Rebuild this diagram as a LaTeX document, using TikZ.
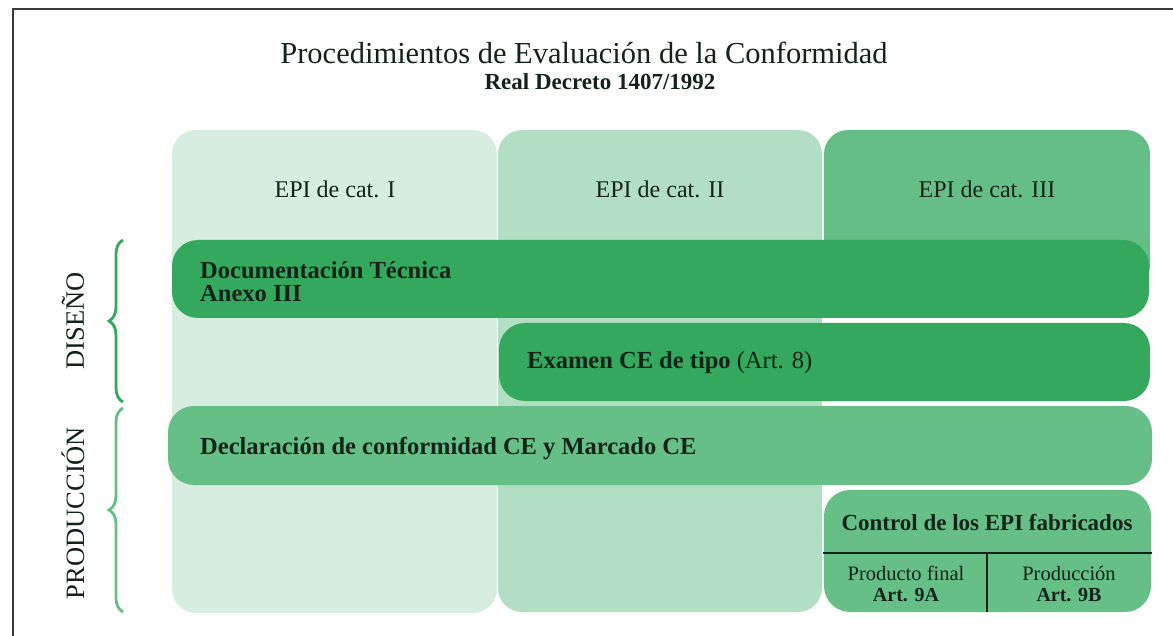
\documentclass[tikz,border=0pt]{standalone}
\usepackage{fontspec}
\setmainfont{Liberation Serif}
\usetikzlibrary{decorations.pathreplacing}
\definecolor{cone}{HTML}{D7EDE0}
\definecolor{ctwo}{HTML}{B2DFC4}
\definecolor{cthree}{HTML}{66BE87}
\definecolor{cdark}{HTML}{34A85C}
\definecolor{cmed}{HTML}{66BF87}
\definecolor{ctext}{HTML}{14231A}
\definecolor{cframe}{HTML}{3A3A3A}
\tikzset{
  colbox/.style={rounded corners=24pt},
  barbox/.style={rounded corners=26pt},
  hdr/.style={text=ctext,anchor=base,font=\fontsize{24}{26}\selectfont},
  bartext/.style={text=ctext,font=\bfseries\fontsize{24.5}{23}\selectfont,anchor=base west,align=left,inner sep=0pt},
  small/.style={text=ctext,font=\fontsize{20.5}{21}\selectfont,anchor=base,inner sep=0pt},
  bracestyle/.style={decorate,decoration={brace,amplitude=14pt},line width=2.8pt},
  sidelabel/.style={text=ctext,rotate=90,font=\fontsize{26.5}{28}\selectfont}
}
\begin{document}
\begin{tikzpicture}[x=1pt,y=-1pt]
\useasboundingbox (0,0) rectangle (1173,636);
% frame
\draw[cframe,line width=2pt] (12.5,636) -- (12.5,9.5) -- (1173,9.5);
% title
\node[text=ctext,anchor=base,inner sep=0pt,font=\fontsize{30.5}{32}\selectfont] (title) at (584,64) {Procedimientos de Evaluación de la Conformidad};
\node[text=ctext,anchor=base,inner sep=0pt,font=\bfseries\fontsize{23}{24}\selectfont] (subtitle) at (600,90) {Real Decreto 1407/1992};
% columns
\fill[cone,colbox] (172,130) rectangle (497,613);
\fill[ctwo,colbox] (498,130) rectangle (822,612);
\fill[cthree,colbox] (824,130) rectangle (1150,290);
\node[hdr] (h1) at (335,198) {EPI de cat. I};
\node[hdr] (h2) at (660,198) {EPI de cat. II};
\node[hdr] (h3) at (987,198) {EPI de cat. III};
% bars
\fill[cdark,barbox] (172,240) rectangle (1149,318);
\node[bartext] (doc) at (200,279) {Documentación Técnica};
\node[bartext] (anexo) at (200,302) {Anexo III};
\fill[cdark,barbox] (499,323) rectangle (1150,401);
\node[bartext] (exam) at (527,369) {Examen CE de tipo \mdseries(Art. 8)};
\fill[cmed,barbox] (168,406) rectangle (1152,485);
\node[bartext] (decl) at (200,454) {Declaración de conformidad CE y Marcado CE};
\fill[cmed,barbox] (824,490) rectangle (1151,612);
\node[bartext,anchor=base,font=\bfseries\fontsize{23}{24}\selectfont] (ctrl) at (987,530) {Control de los EPI fabricados};
\coordinate (la) at (823,553);
\coordinate (lb) at (1152,553);
\coordinate (va) at (987,553);
\coordinate (vb) at (987,612);
\draw[ctext,line width=1.2pt] (la) -- (lb);
\draw[ctext,line width=1.2pt] (va) -- (vb);
\node[small] (pa) at (906,580) {Producto final};
\node[small,font=\bfseries\fontsize{20}{21}\selectfont] (pa2) at (906,601) {Art. 9A};
\node[small] (pb) at (1069,580) {Producción};
\node[small,font=\bfseries\fontsize{20}{21}\selectfont] (pb2) at (1069,601) {Art. 9B};
% braces
\coordinate (d1) at (123,402);
\coordinate (d2) at (123,240);
\coordinate (p1) at (123,612);
\coordinate (p2) at (123,408);
\draw[cdark,bracestyle] (d1) -- (d2);
\draw[cmed,bracestyle] (p1) -- (p2);
\node[sidelabel] (dis) at (73,321) {DISEÑO};
\node[sidelabel] (prod) at (73,513) {PRODUCCIÓN};
\end{tikzpicture}
\end{document}
